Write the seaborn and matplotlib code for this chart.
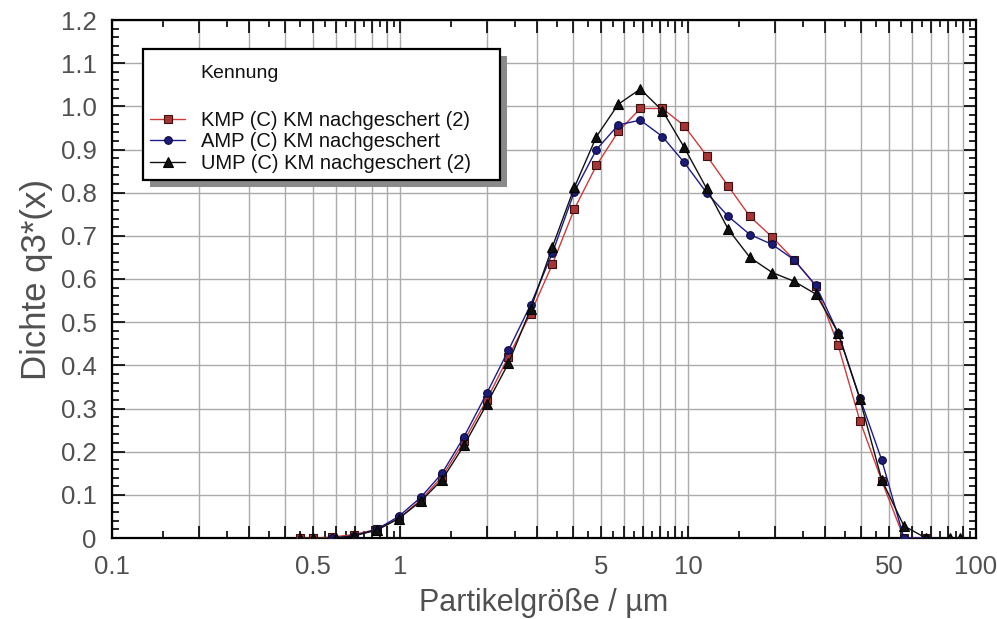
import numpy as np
import pandas as pd
import matplotlib
matplotlib.use("Agg")
import matplotlib.pyplot as plt
from matplotlib.patches import Rectangle
from matplotlib.ticker import FixedLocator, FixedFormatter, MultipleLocator
import seaborn as sns

# ---------------- data ----------------
x_kmp = [0.45, 0.5, 0.58, 0.69, 0.83, 0.99, 1.18, 1.4, 1.67, 2.0, 2.38, 2.84, 3.38, 4.03,
         4.81, 5.73, 6.83, 8.15, 9.7, 11.6, 13.8, 16.4, 19.6, 23.3, 27.8, 33.2, 39.5, 47.1,
         56.2, 67.0]
y_kmp = [0.0, 0.0, 0.002, 0.008, 0.02, 0.045, 0.088, 0.142, 0.225, 0.32, 0.42, 0.52, 0.634,
         0.762, 0.863, 0.942, 0.995, 0.995, 0.955, 0.886, 0.815, 0.745, 0.697, 0.645, 0.584,
         0.447, 0.272, 0.132, 0.0, 0.0]

x_amp = [0.58, 0.69, 0.83, 0.99, 1.18, 1.4, 1.67, 2.0, 2.38, 2.84, 3.38, 4.03, 4.81, 5.73,
         6.83, 8.15, 9.7, 11.6, 13.8, 16.4, 19.6, 23.3, 27.8, 33.2, 39.5, 47.1, 56.2, 67.0]
y_amp = [0.0, 0.005, 0.02, 0.05, 0.094, 0.15, 0.235, 0.335, 0.435, 0.54, 0.66, 0.802, 0.9,
         0.957, 0.968, 0.93, 0.87, 0.8, 0.745, 0.703, 0.68, 0.645, 0.585, 0.475, 0.325, 0.18,
         0.0, 0.0]

x_ump = [0.45, 0.5, 0.6, 0.69, 0.83, 0.99, 1.18, 1.4, 1.67, 2.0, 2.38, 2.84, 3.38, 4.03,
         4.81, 5.73, 6.83, 8.15, 9.7, 11.6, 13.8, 16.4, 19.6, 23.3, 27.8, 33.2, 39.5, 47.1,
         56.2, 67.0, 81.0, 88.0]
y_ump = [0.0, 0.0, 0.0, 0.005, 0.018, 0.045, 0.085, 0.135, 0.215, 0.31, 0.405, 0.53, 0.674,
         0.812, 0.93, 1.005, 1.04, 0.99, 0.905, 0.81, 0.715, 0.65, 0.615, 0.595, 0.565, 0.476,
         0.322, 0.134, 0.028, 0.0, 0.0, 0.0]

series_names = ["KMP (C) KM nachgeschert (2)", "AMP (C) KM nachgeschert",
                "UMP (C) KM nachgeschert (2)"]
legend_title = "Kennung"
x_label = "Partikelgröße / µm"
y_label = "Dichte q3*(x)"
x_tick_values = [0.1, 0.5, 1, 5, 10, 50, 100]
x_tick_labels = ["0.1", "0.5", "1", "5", "10", "50", "100"]
y_tick_values = [0, 0.1, 0.2, 0.3, 0.4, 0.5, 0.6, 0.7, 0.8, 0.9, 1.0, 1.1, 1.2]
y_tick_labels = ["0", "0.1", "0.2", "0.3", "0.4", "0.5", "0.6", "0.7", "0.8", "0.9",
                 "1.0", "1.1", "1.2"]

# ---------------- style ----------------
sns.set_theme(style="white")
plt.rcParams["font.family"] = ["Liberation Sans", "DejaVu Sans"]

W, H = 997, 619
fig = plt.figure(figsize=(W / 100, H / 100), dpi=100)
fig.patch.set_facecolor("white")
L, R, T, B = 112, 976, 20, 538
ax = fig.add_axes([L / W, 1 - B / H, (R - L) / W, (B - T) / H])
ax.set_facecolor("white")

styles = [
    dict(line="#d03a3a", face="#a83434", edge="#3a1010", marker="s", ms=6.0),
    dict(line="#1c1c8c", face="#1c1c78", edge="#0a0a40", marker="o", ms=5.5),
    dict(line="#111111", face="#111111", edge="#000000", marker="^", ms=6.5),
]
data = [(x_kmp, y_kmp), (x_amp, y_amp), (x_ump, y_ump)]

handles = []
for (xs, ys), name, st in zip(data, series_names, styles):
    df = pd.DataFrame({"x": xs, "y": ys})
    sns.lineplot(data=df, x="x", y="y", ax=ax, color=st["line"], lw=1.0,
                 marker=st["marker"], markersize=st["ms"], markerfacecolor=st["face"],
                 markeredgecolor=st["edge"], markeredgewidth=0.8, zorder=3)
    handles.append(ax.lines[-1])

ax.set_xscale("log")
ax.set_xlim(0.1, 100)
ax.set_ylim(0, 1.2)

# x ticks: long at 1..9 x 10^n, short at half steps
major_x = [m * 10.0 ** e for e in (-1, 0, 1) for m in range(1, 10)] + [100]
minor_x = [(m + 0.5) * 10.0 ** e for e in (-1, 0, 1) for m in range(1, 10)]
ax.xaxis.set_major_locator(FixedLocator(major_x))
lbl = []
for v in major_x:
    m = [i for i, t in enumerate(x_tick_values) if abs(v - t) < 1e-9]
    lbl.append(x_tick_labels[m[0]] if m else "")
ax.xaxis.set_major_formatter(FixedFormatter(lbl))
ax.xaxis.set_minor_locator(FixedLocator(minor_x))
ax.xaxis.set_minor_formatter(FixedFormatter([""] * len(minor_x)))

ax.yaxis.set_major_locator(FixedLocator(y_tick_values))
ax.yaxis.set_major_formatter(FixedFormatter(y_tick_labels))
ax.yaxis.set_minor_locator(MultipleLocator(0.02))

ax.grid(True, which="major", color="#ababab", lw=1.0, zorder=0)
ax.set_axisbelow(True)

tick_col = "#505050"
ax.tick_params(which="both", direction="in", top=True, right=True, bottom=True, left=True,
               color="black", width=1.2)
ax.tick_params(which="major", length=9)
ax.tick_params(which="minor", length=5)
ax.tick_params(axis="x", which="major", labelsize=18.5, labelcolor=tick_col, pad=12)
ax.tick_params(axis="y", which="major", labelsize=18.5, labelcolor=tick_col, pad=11)

for s in ax.spines.values():
    s.set_visible(True)
    s.set_color("black")
    s.set_linewidth(1.6)

ax.set_xlabel(x_label, fontsize=22, color=tick_col, labelpad=7)
ax.set_ylabel(y_label, fontsize=25, color=tick_col, labelpad=6)

# ---------------- legend box with shadow ----------------
def axc(px, py):
    return ((px - L) / (R - L), (B - py) / (B - T))

bx0, by0 = axc(143, 180)
bx1, by1 = axc(500, 49)
sx, sy = 7 / (R - L), 7 / (B - T)
ax.add_patch(Rectangle((bx0 + sx, by0 - sy), bx1 - bx0, by1 - by0, transform=ax.transAxes,
                       facecolor="#8a8a8a", edgecolor="none", zorder=5))
ax.add_patch(Rectangle((bx0, by0), bx1 - bx0, by1 - by0, transform=ax.transAxes,
                       facecolor="white", edgecolor="black", lw=1.6, zorder=6))

fig.text(200 / W, 1 - 74 / H, legend_title, fontsize=14, color="#111111",
         ha="left", va="center", zorder=10)
leg = ax.legend(handles, series_names, loc="upper left",
                bbox_to_anchor=(150 / W, 1 - 111 / H), bbox_transform=fig.transFigure,
                frameon=False, fontsize=14.5, borderpad=0, borderaxespad=0,
                handlelength=1.75, handletextpad=0.8, labelspacing=0.12)
leg.set_zorder(10)
for t in leg.get_texts():
    t.set_color("#111111")

fig.savefig("out.png", dpi=100, facecolor="white")
